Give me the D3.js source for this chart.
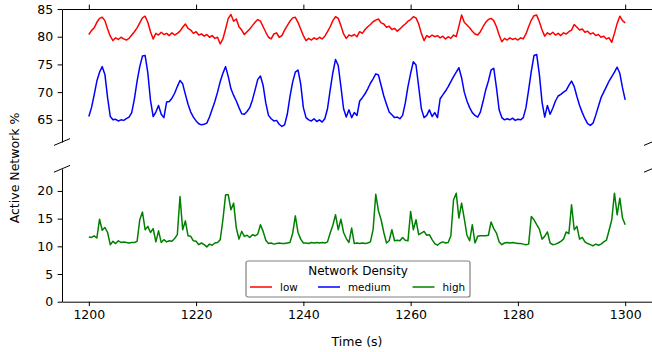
<!DOCTYPE html>
<html>
<head>
<meta charset="utf-8">
<script src="https://cdn.jsdelivr.net/npm/d3@7"></script>
<style>
  body { margin: 0; background: #fff; }
  svg { display: block; font-family: "DejaVu Sans", sans-serif; }
</style>
</head>
<body>
<div id="chart"></div>
<script>
// samples every 0.5 s from 1200 s to 1300 s
const timeStart = 1200;
const timeStep = 0.5;

const lowDensity = [
  80.4, 81.1, 81.6, 82.6, 83.3, 83.5, 82.9, 81.4, 80.1, 79.3,
  79.8, 79.5, 79.9, 79.6, 79.4, 79.7, 80.3, 80.9, 81.6, 82.5,
  83.4, 83.7, 82.6, 80.9, 79.6, 80.6, 80.3, 80.8, 80.4, 80.6,
  80.2, 80.7, 80.3, 80.6, 81.0, 81.7, 82.3, 81.5, 81.2, 80.6,
  80.9, 80.3, 80.5, 80.1, 80.4, 79.9, 80.2, 79.7, 79.9, 78.7,
  79.6, 81.4, 83.3, 84.0, 82.8, 83.2, 81.8, 81.2, 80.4, 80.9,
  81.4, 82.0, 82.6, 83.1, 82.8, 81.8, 80.8, 79.9, 79.6, 80.5,
  80.7, 79.9, 80.2, 81.2, 82.0, 82.8, 83.4, 83.5, 82.6, 81.4,
  80.2, 79.3, 79.7, 79.4, 79.8, 79.5, 79.9, 79.6, 80.1, 80.9,
  81.8, 82.9, 83.6, 83.3, 82.0, 80.5, 79.7, 80.3, 80.1, 80.4,
  80.0, 80.9, 80.6, 81.3, 81.8, 82.2, 82.7, 83.0, 83.2, 82.5,
  82.3, 81.7, 81.9, 81.3, 81.5, 81.0, 81.4, 81.9, 82.3, 82.8,
  83.1, 83.6, 83.4, 82.3, 80.6, 79.3, 80.2, 79.9, 80.3, 80.0,
  80.2, 79.8, 80.1, 79.6, 80.0, 79.7, 80.3, 80.0, 81.9, 83.9,
  82.6, 82.1, 81.6, 81.0, 80.5, 80.3, 80.9, 81.8, 82.6, 83.1,
  83.3, 82.9, 81.8, 80.3, 79.1, 79.7, 79.4, 79.8, 79.5, 79.7,
  79.4, 79.8, 79.6, 80.5, 81.8, 83.0, 83.8, 83.9, 82.7, 81.2,
  80.1, 80.7, 80.4, 80.8, 80.3, 80.6, 80.2, 80.7, 80.5, 80.9,
  81.2, 82.2, 81.7, 81.2, 81.4, 80.8, 81.0, 80.5, 80.7, 80.2,
  80.4, 79.9, 80.1, 79.6, 79.8, 79.0, 80.6, 82.4, 83.7, 82.9,
  82.5
];

const mediumDensity = [
  65.6, 67.2, 69.5, 72.0, 73.6, 74.6, 73.2, 69.0, 65.6, 65.0,
  65.1, 64.8, 65.0, 64.9, 65.2, 65.5, 66.3, 68.8, 72.0, 74.6,
  76.5, 76.6, 73.5, 68.5, 65.6, 66.4, 67.6, 66.0, 65.4, 68.2,
  68.3, 68.9, 69.8, 71.0, 72.1, 71.5, 69.6, 67.8, 66.4, 65.5,
  64.8, 64.3, 64.1, 64.2, 64.4, 65.5, 66.9, 68.3, 70.0, 71.9,
  73.4, 74.6, 72.8, 70.6, 69.4, 68.4, 67.2, 66.1, 66.0, 66.5,
  67.2, 68.6, 70.4, 72.3, 72.9, 71.2, 68.0, 65.8, 65.2, 64.8,
  64.9, 64.2, 63.8, 64.1, 66.0, 69.2, 71.8, 73.6, 74.0, 71.5,
  67.2, 65.4, 65.0, 64.8, 65.2, 64.7, 65.0, 64.6, 65.2, 67.0,
  70.4, 73.5, 75.9, 74.8, 71.0, 67.0, 65.5, 66.8, 65.4, 66.3,
  65.8, 68.4, 69.0, 69.7, 70.6, 71.6, 72.4, 73.3, 73.1, 71.2,
  69.3, 67.8, 66.4, 65.9, 65.4, 65.5, 65.2, 65.8, 68.0, 71.0,
  73.4, 75.5, 74.9, 71.0, 67.0, 65.4, 65.8, 66.8, 65.6, 66.3,
  65.4, 68.8, 69.5, 70.2, 71.0, 71.9, 72.8, 73.6, 74.4, 72.6,
  70.0, 68.4, 67.2, 66.3, 65.8, 65.5, 66.4, 68.3, 70.4, 72.0,
  74.0, 74.3, 70.8, 66.8, 65.4, 65.0, 65.2, 65.0, 65.3, 64.9,
  65.1, 65.0, 65.4, 67.2, 70.4, 73.8, 76.6, 76.8, 73.2, 68.2,
  65.5, 67.6, 66.0, 67.1, 68.4, 69.3, 69.6, 70.0, 70.3, 71.2,
  72.0, 71.0, 69.2, 67.6, 66.3, 65.2, 64.3, 64.0, 64.4, 65.8,
  67.4, 69.0, 70.0, 71.0, 72.0, 72.8, 73.6, 74.5, 73.4, 70.8,
  68.6
];

const highDensity = [
  11.7, 11.6, 11.9, 11.5, 14.9, 12.9, 13.4, 12.5, 10.3, 10.9,
  10.5, 11.0, 10.7, 10.8, 10.7, 10.6, 10.7, 10.7, 10.9, 14.8,
  16.2, 13.0, 13.6, 12.5, 13.2, 10.8, 12.8, 10.7, 11.2, 10.8,
  11.0, 10.9, 11.4, 12.1, 19.0, 13.0, 14.6, 11.9, 11.8, 11.0,
  10.9, 10.3, 10.6, 10.3, 9.9, 10.4, 10.2, 10.6, 10.7, 11.2,
  14.8, 19.3, 19.3, 16.6, 17.8, 13.3, 11.3, 12.7, 11.8, 12.0,
  11.6, 12.1, 11.9, 12.2, 13.9, 12.7, 11.1, 10.5, 10.6, 10.4,
  10.5, 10.6, 10.5, 10.5, 10.6, 10.7, 12.3, 15.5, 12.5, 11.3,
  10.6, 10.6, 10.5, 10.7, 10.6, 10.7, 10.6, 10.7, 10.6, 10.8,
  12.4, 13.8, 15.7, 13.0, 14.9, 12.5, 11.4, 10.7, 13.3, 10.5,
  10.6, 10.5, 10.6, 10.5, 10.6, 10.8, 13.0, 19.4, 16.4, 14.8,
  12.5, 10.6, 11.0, 13.0, 11.0, 11.1, 11.0, 11.6, 11.1, 11.0,
  16.3, 13.0, 14.8, 12.1, 12.4, 12.7, 12.0, 12.1, 11.2, 10.5,
  10.2, 10.6, 10.8, 10.6, 10.7, 11.9, 18.4, 19.6, 15.1, 17.8,
  15.0, 12.0, 11.0, 13.9, 10.6, 11.8, 11.9, 11.9, 11.9, 12.0,
  14.4, 13.2, 12.4, 10.8, 10.3, 10.6, 10.7, 10.6, 10.7, 10.6,
  10.5, 10.5, 10.4, 10.3, 10.4, 15.4, 14.8, 13.9, 13.1, 11.3,
  11.8, 12.6, 10.6, 10.3, 10.4, 10.6, 10.9, 11.3, 12.6, 12.3,
  17.5, 13.0, 13.6, 11.3, 11.6, 10.8, 10.5, 10.3, 10.1, 10.4,
  10.2, 10.4, 10.8, 11.1, 12.9, 14.8, 19.6, 15.7, 18.7, 15.1,
  13.9
];

const seriesNames = ["low", "medium", "high"];
const seriesColors = ["red", "blue", "green"];
const xTicks = [1200, 1220, 1240, 1260, 1280, 1300];
const topYTicks = [65, 70, 75, 80, 85];
const bottomYTicks = [0, 5, 10, 15, 20];

const width = 652;
const height = 352;
const plot = { left: 62, right: 652 };
const topPanel = { top: 9, bottom: 142 };
const bottomPanel = { top: 168.8, bottom: 301.7 };
const tickLen = 4.4;
const tickFont = 12.5;

const xScale = d3.scaleLinear([1195, 1305], [plot.left, plot.right]);
const yTop = d3.scaleLinear([61, 85], [topPanel.bottom, topPanel.top]);
const yBottom = d3.scaleLinear([0, 24], [bottomPanel.bottom, bottomPanel.top]);

const svg = d3
  .select("#chart")
  .append("svg")
  .attr("width", width)
  .attr("height", height)
  .attr("viewBox", `0 0 ${width} ${height}`);

const styleAxis = (g) => {
  g.attr("font-family", null).attr("font-size", null);
  g.selectAll("path, line").attr("stroke", "#000").attr("stroke-width", 1);
  g.selectAll("text").style("font-size", tickFont + "px").attr("fill", "#000");
};

// x axes: ticks only on top of upper panel, labelled below lower panel
svg
  .append("g")
  .attr("transform", `translate(0, ${topPanel.top})`)
  .call(d3.axisTop(xScale).tickValues(xTicks).tickFormat("").tickSize(tickLen).tickSizeOuter(0))
  .call(styleAxis);

svg
  .append("g")
  .attr("transform", `translate(0, ${bottomPanel.bottom})`)
  .call(
    d3.axisBottom(xScale).tickValues(xTicks).tickFormat(d3.format("d"))
      .tickSize(tickLen).tickPadding(4.4).tickSizeOuter(0)
  )
  .call(styleAxis);

// y axes for both panels
svg
  .append("g")
  .attr("transform", `translate(${plot.left}, 0)`)
  .call(d3.axisLeft(yTop).tickValues(topYTicks).tickSize(tickLen).tickPadding(4.4).tickSizeOuter(0))
  .call(styleAxis);

svg
  .append("g")
  .attr("transform", `translate(${plot.left}, 0)`)
  .call(d3.axisLeft(yBottom).tickValues(bottomYTicks).tickSize(tickLen).tickPadding(4.4).tickSizeOuter(0))
  .call(styleAxis);

// data lines
const timeOf = (i) => timeStart + i * timeStep;
const lineTop = d3.line().x((d, i) => xScale(timeOf(i))).y((d) => yTop(d));
const lineBottom = d3.line().x((d, i) => xScale(timeOf(i))).y((d) => yBottom(d));

const series = [
  { data: lowDensity, line: lineTop },
  { data: mediumDensity, line: lineTop },
  { data: highDensity, line: lineBottom },
];

svg
  .append("g")
  .selectAll("path")
  .data(series)
  .join("path")
  .attr("d", (s) => s.line(s.data))
  .attr("fill", "none")
  .attr("stroke", (s, i) => seriesColors[i])
  .attr("stroke-width", 1.5)
  .attr("stroke-linejoin", "round");

// break marks
const dx = 8;
const dy = 3.4;
const corners = [
  [plot.left, topPanel.bottom],
  [plot.right, topPanel.bottom],
  [plot.left, bottomPanel.top],
  [plot.right, bottomPanel.top],
];
svg
  .append("g")
  .selectAll("line")
  .data(corners)
  .join("line")
  .attr("x1", (d) => d[0] - dx)
  .attr("y1", (d) => d[1] + dy)
  .attr("x2", (d) => d[0] + dx)
  .attr("y2", (d) => d[1] - dy)
  .attr("stroke", "#000")
  .attr("stroke-width", 1);

// axis labels
svg
  .append("text")
  .attr("x", (plot.left + plot.right) / 2)
  .attr("y", 346)
  .attr("text-anchor", "middle")
  .style("font-size", "12.5px")
  .text("Time (s)");

svg
  .append("text")
  .attr("transform", "translate(19, 168) rotate(-90)")
  .attr("text-anchor", "middle")
  .style("font-size", "12.5px")
  .text("Active Network %");

// legend
const legend = svg.append("g").attr("transform", "translate(246, 261)");
legend
  .append("rect")
  .attr("width", 224)
  .attr("height", 36)
  .attr("rx", 2)
  .attr("fill", "#fff")
  .attr("stroke", "#808080")
  .attr("stroke-width", 1.2);
legend
  .append("text")
  .attr("x", 112)
  .attr("y", 13.5)
  .attr("text-anchor", "middle")
  .style("font-size", "12px")
  .text("Network Density");

const entryX = [4, 72, 166.5];
const entry = legend
  .selectAll("g.entry")
  .data(seriesNames)
  .join("g")
  .attr("class", "entry")
  .attr("transform", (d, i) => `translate(${entryX[i]}, 26)`);
entry
  .append("line")
  .attr("x1", 0)
  .attr("x2", 22)
  .attr("stroke", (d, i) => seriesColors[i])
  .attr("stroke-width", 1.5);
entry
  .append("text")
  .attr("x", 30)
  .attr("y", 3.8)
  .style("font-size", "10.4px")
  .text((d) => d);
</script>
</body>
</html>
